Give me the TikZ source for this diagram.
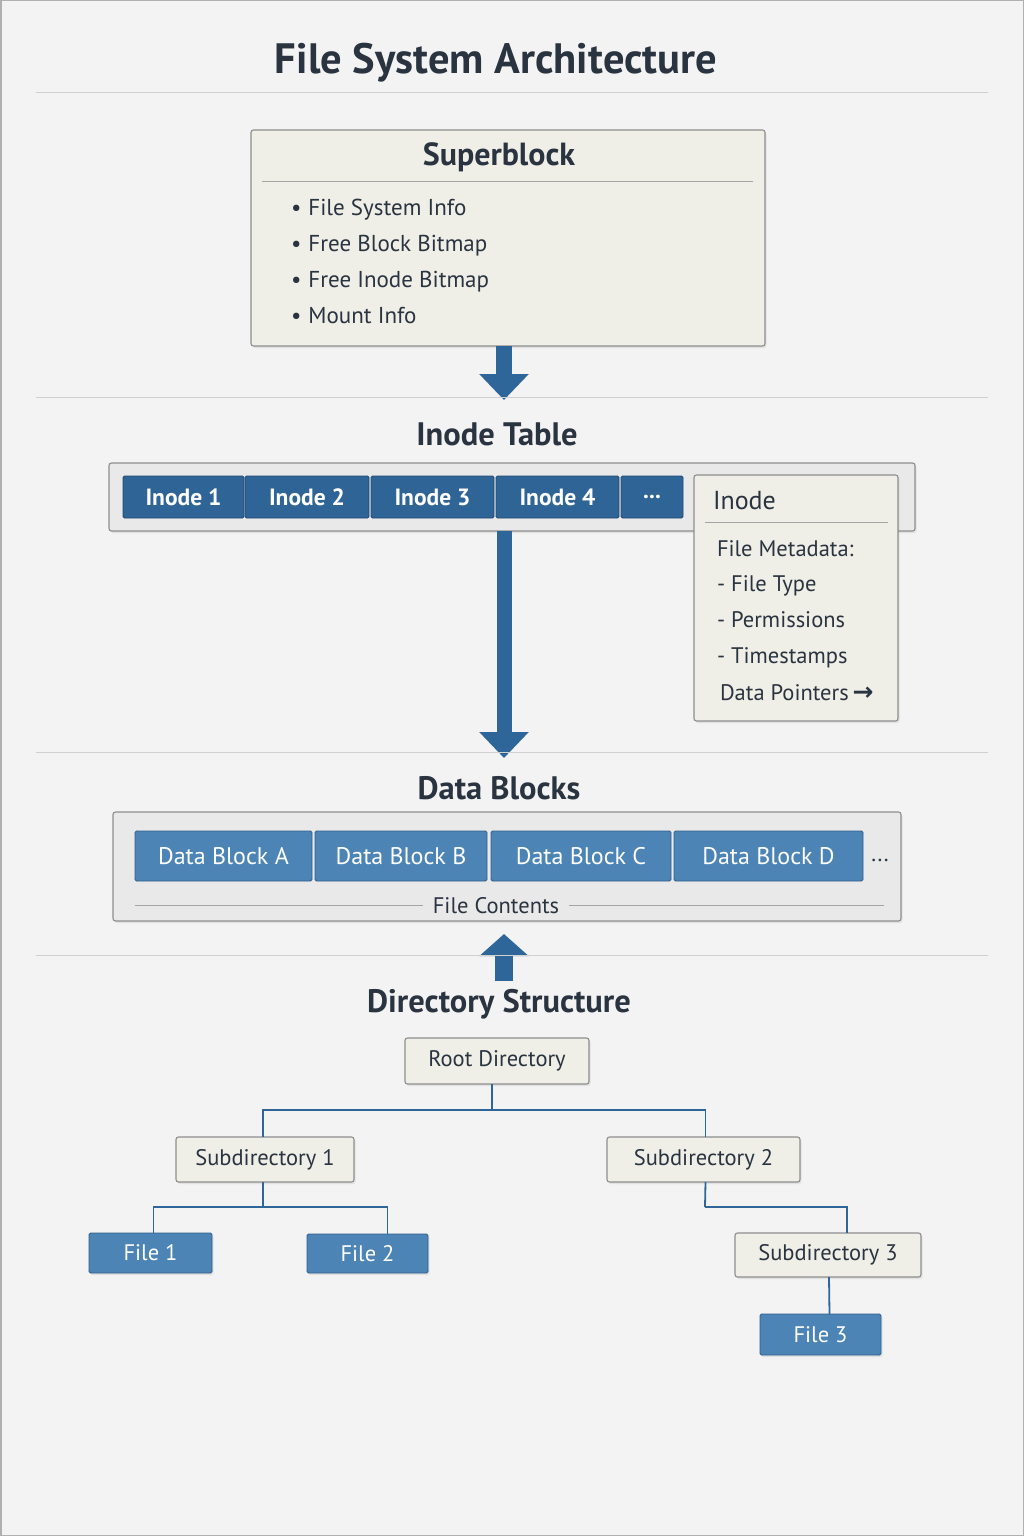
\documentclass[tikz,border=0pt]{standalone}
\usepackage{fontspec}
\setmainfont{PT Sans}
\newfontfamily\symfnt{DejaVu Sans}
\usetikzlibrary{arrows.meta,shadows,calc}
\definecolor{bgc}{HTML}{F3F3F3}
\definecolor{beige}{HTML}{EFEEE7}
\definecolor{bordc}{HTML}{8E8E8E}
\definecolor{contc}{HTML}{E9E9E9}
\definecolor{darkblue}{HTML}{2F6497}
\definecolor{darkblueb}{HTML}{1F4870}
\definecolor{lightblue}{HTML}{4C84B6}
\definecolor{lightblueb}{HTML}{2F5F8C}
\definecolor{arrowc}{HTML}{2E6699}
\definecolor{txtc}{HTML}{2A3440}
\definecolor{sepc}{HTML}{D0D0D0}
\newcommand\myttl{\fontsize{42.5}{48}\selectfont\bfseries}
\newcommand\mysec{\fontsize{32.5}{38}\selectfont\bfseries}
\newcommand\mybody{\fontsize{23}{28}\selectfont}
\newcommand\mydet{\fontsize{22.5}{26}\selectfont}
\newcommand\mycell{\fontsize{23.5}{27}\selectfont\bfseries}
\newcommand\mydcell{\fontsize{24}{28}\selectfont}
\newcommand\mytree{\fontsize{22.5}{26}\selectfont}
\begin{document}
\begin{tikzpicture}[x=1pt,y=-1pt,
  box/.style={draw=bordc, line width=1.1pt, rounded corners=2.5pt, inner sep=0pt, outer sep=0pt, anchor=north west},
  shad/.style={drop shadow={shadow xshift=1.5pt, shadow yshift=-2pt, opacity=0.15}},
  beigebox/.style={box, fill=beige, shad},
  contbox/.style={box, fill=contc, shad},
  dcell/.style={box, fill=darkblue, draw=darkblueb, line width=0.8pt, rounded corners=1.5pt, text=white, font=\mycell},
  lcell/.style={box, fill=lightblue, draw=lightblueb, line width=0.8pt, rounded corners=1.5pt, text=white, font=\mydcell},
  tbox/.style={box, fill=beige, shad, text=txtc, font=\mytree},
  fbox/.style={box, fill=lightblue, draw=lightblueb, line width=0.9pt, rounded corners=1.5pt, text=white, font=\mytree, shad},
  txt/.style={text=txtc, inner sep=0pt, outer sep=0pt},
  sep/.style={draw=sepc, line width=1pt},
  bigarrow/.style={draw=arrowc, line width=16pt, -{Triangle[width=48pt,length=26pt]}},
  conn/.style={draw=arrowc, line width=1.8pt},
  rule/.style={draw=bordc!80, line width=0.8pt}
]
\useasboundingbox (0,0) rectangle (1024,1536);
\fill[bgc] (0,0) rectangle (1024,1536);
\draw[bordc!70, line width=1.5pt] (0.75,0.75) rectangle (1023.25,1535.25);

% title
\node[txt, font=\myttl] (title) at (496,63) {File System Architecture};
\coordinate (s1l) at (36,93); \coordinate (s1r) at (988,93);
\draw[sep] (s1l) -- (s1r);

% superblock
\node[beigebox, minimum width=514pt, minimum height=216pt] (sb) at (251,130) {};
\node[txt, font=\fontsize{32}{36}\selectfont\bfseries] (sbt) at (499,157) {Superblock};
\coordinate (sbl) at (262,181); \coordinate (sbr) at (753,181);
\draw[rule] (sbl) -- (sbr);
\node[txt, font=\mybody, anchor=mid west] (sb1) at (291,213) {\textbullet\hspace{7pt}File System Info};
\node[txt, font=\mybody, anchor=mid west] (sb2) at (291,249) {\textbullet\hspace{7pt}Free Block Bitmap};
\node[txt, font=\mybody, anchor=mid west] (sb3) at (291,285) {\textbullet\hspace{7pt}Free Inode Bitmap};
\node[txt, font=\mybody, anchor=mid west] (sb4) at (291,321) {\textbullet\hspace{7pt}Mount Info};

\coordinate (a1e) at (504,400);
\draw[bigarrow] (sb.south -| a1e) -- (a1e);
\coordinate (s2l) at (36,397); \coordinate (s2r) at (988,397);
\draw[sep] (s2l) -- (s2r);

% inode table
\node[txt, font=\mysec] (itt) at (497,434) {Inode Table};
\node[contbox, minimum width=806pt, minimum height=68pt] (it) at (109,463) {};
\node[dcell, minimum width=121pt, minimum height=42pt] (i1) at (123,476) {Inode 1};
\node[dcell, minimum width=124pt, minimum height=42pt] (i2) at (245,476) {Inode 2};
\node[dcell, minimum width=123pt, minimum height=42pt] (i3) at (371,476) {Inode 3};
\node[dcell, minimum width=123pt, minimum height=42pt] (i4) at (496,476) {Inode 4};
\node[dcell, minimum width=62pt, minimum height=42pt] (i5) at (621,476) {...};

\coordinate (a2e) at (504,758);
\draw[bigarrow, line width=15pt] (it.south -| a2e) -- (a2e);

% inode detail
\node[beigebox, minimum width=204pt, minimum height=246pt] (id) at (694,475) {};
\node[txt, font=\fontsize{26}{30}\selectfont, anchor=mid west] (idt) at (713,507) {Inode};
\coordinate (idl) at (705,522); \coordinate (idr) at (888,522);
\draw[rule] (idl) -- (idr);
\node[txt, font=\mydet, anchor=mid west] (id1) at (717,554) {File Metadata:};
\node[txt, font=\mydet, anchor=mid west] (id2) at (717,589) {- File Type};
\node[txt, font=\mydet, anchor=mid west] (id3) at (717,625) {- Permissions};
\node[txt, font=\mydet, anchor=mid west] (id4) at (717,661) {- Timestamps};
\node[txt, font=\mydet, anchor=mid west] (id5) at (720,698) {Data Pointers\,{\symfnt\bfseries\fontsize{25}{26}\selectfont →}};

\coordinate (s3l) at (36,752); \coordinate (s3r) at (988,752);
\draw[sep] (s3l) -- (s3r);

% data blocks
\node[txt, font=\mysec] (dbt) at (499,788) {Data Blocks};
\node[contbox, minimum width=788pt, minimum height=109pt] (db) at (113,812) {};
\node[lcell, minimum width=177pt, minimum height=50pt] (dA) at (135,831) {Data Block A};
\node[lcell, minimum width=172pt, minimum height=50pt] (dB) at (315,831) {Data Block B};
\node[lcell, minimum width=180pt, minimum height=50pt] (dC) at (491,831) {Data Block C};
\node[lcell, minimum width=189pt, minimum height=50pt] (dD) at (674,831) {Data Block D};
\node[txt, font=\mydet] (dE) at (880,860) {...};
\node[txt, font=\fontsize{22.5}{26}\selectfont, inner xsep=10pt] (fc) at (496,906) {File Contents};
\coordinate (fcl) at (135,905); \coordinate (fcr) at (884,905);
\draw[rule] (fcl) -- (fc.west |- fcl);
\draw[rule] (fc.east |- fcr) -- (fcr);

\coordinate (a3s) at (504,981);
\coordinate (a3e) at (504,934);
\draw[bigarrow, line width=18pt, -{Triangle[width=48pt,length=22pt]}] (a3s) -- (a3e);
\coordinate (s4l) at (36,955); \coordinate (s4r) at (988,955);
\draw[sep] (s4l) -- (s4r);

% directory structure
\node[txt, font=\mysec] (dst) at (499,1004) {Directory Structure};
\node[tbox, minimum width=184pt, minimum height=46pt] (root) at (405,1038) {Root Directory};
\node[tbox, minimum width=178pt, minimum height=45pt] (sub1) at (176,1137) {Subdirectory 1};
\node[tbox, minimum width=193pt, minimum height=45pt] (sub2) at (607,1137) {Subdirectory 2};
\node[tbox, minimum width=186pt, minimum height=44pt] (sub3) at (735,1233) {Subdirectory 3};
\node[fbox, minimum width=123pt, minimum height=40pt] (f1) at (89,1233) {File 1};
\node[fbox, minimum width=121pt, minimum height=39pt] (f2) at (307,1234) {File 2};
\node[fbox, minimum width=121pt, minimum height=41pt] (f3) at (760,1314) {File 3};

\coordinate (j1) at (492,1110);
\coordinate (j2) at (263,1207);
\coordinate (j3) at (705,1207);
\draw[conn] ($(root.south)+(-5,0)$) -- (j1);
\draw[conn] (j1) -| ($(sub1.north)+(-2,0)$);
\draw[conn] (j1) -| ($(sub2.north)+(2,0)$);
\draw[conn] ($(sub1.south)+(-2,0)$) -- (j2);
\draw[conn] (j2) -| ($(f1.north)+(3,0)$);
\draw[conn] (j2) -| ($(f2.north)+(20,0)$);
\draw[conn] ($(sub2.south)+(2,0)$) -- (j3);
\draw[conn] (j3) -| ($(sub3.north)+(19,0)$);
\draw[conn] ($(sub3.south)+(1,0)$) -- ($(f3.north)+(9,0)$);
\end{tikzpicture}
\end{document}
